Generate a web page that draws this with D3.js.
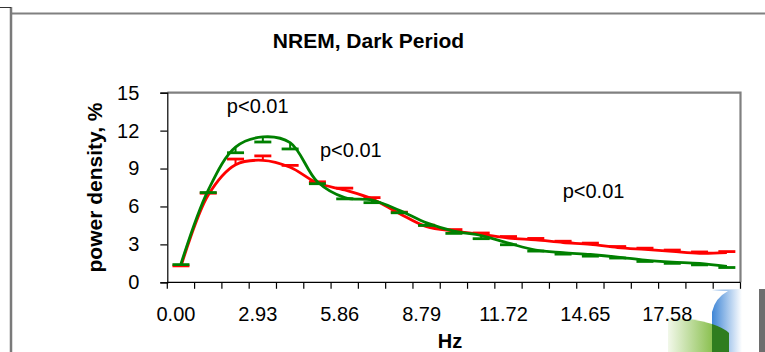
<!DOCTYPE html>
<html>
<head>
<meta charset="utf-8">
<script src="https://cdn.jsdelivr.net/npm/d3@7"></script>
<style>
  html, body { margin: 0; padding: 0; background: #fff; }
  svg { display: block; font-family: "Liberation Sans", Arial, Helvetica, sans-serif; }
</style>
</head>
<body>
<svg id="chart" width="765" height="352"></svg>
<script>
// ---- data ----
const categories = ["0.00","0.98","1.95","2.93","3.91","4.88","5.86","6.84","7.81","8.79","9.77",
                    "10.74","11.72","12.70","13.67","14.65","15.63","16.60","17.58","18.55","19.53"];
const tickLabels = ["0.00","2.93","5.86","8.79","11.72","14.65","17.58"];
const yTicks = [0, 3, 6, 9, 12, 15];
const redValues = [1.25, 6.9, 9.3, 9.65, 9.1, 7.85, 7.3, 6.6, 5.45, 4.4, 4.05, 3.8, 3.5, 3.35, 3.15, 3.0, 2.75, 2.6, 2.45, 2.3, 2.35];
const redErr    = [0.05, 0.15, 0.45, 0.35, 0.15, 0.1, 0.15, 0.1, 0.1, 0.12, 0.12, 0.1, 0.12, 0.12, 0.1, 0.1, 0.08, 0.1, 0.1, 0.1, 0.08];
const greenValues = [1.45, 7.3, 10.7, 11.5, 11.05, 7.95, 6.7, 6.5, 5.7, 4.7, 4.05, 3.7, 3.1, 2.55, 2.35, 2.2, 2.0, 1.75, 1.6, 1.5, 1.25];
const greenErr    = [0.05, 0.2, 0.45, 0.4, 0.5, 0.15, 0.1, 0.2, 0.2, 0.2, 0.18, 0.25, 0.13, 0.08, 0.12, 0.13, 0.08, 0.1, 0.1, 0.12, 0.08];
const annotations = [
  {text: "p<0.01", cat: "2.93", val: 13.4, dx: -36},
  {text: "p<0.01", cat: "6.84", val: 9.9, dx: -52},
  {text: "p<0.01", cat: "15.63", val: 6.7, dx: -55}
];
const title = "NREM, Dark Period";
const yTitle = "power density, %";
const xTitle = "Hz";

// ---- layout ----
const svg = d3.select("#chart");
const plot = {left: 167.3, right: 740.5, top: 92.7, bottom: 282.3};

const x = d3.scaleBand().domain(categories).range([plot.left, plot.right]).padding(0);
const y = d3.scaleLinear().domain([0, 15]).range([plot.bottom, plot.top]);
const cx = c => x(c) + x.bandwidth() / 2;

// decorative logo (bottom right), drawn first so labels sit on top
const defs = svg.append("defs");
const gg = defs.append("linearGradient").attr("id", "lg").attr("x1", 0).attr("x2", 1).attr("y1", 0).attr("y2", 0);
gg.append("stop").attr("offset", 0).attr("stop-color", "#f2f8ea");
gg.append("stop").attr("offset", 1).attr("stop-color", "#8cc152");
const bg = defs.append("linearGradient").attr("id", "lb").attr("x1", 0).attr("x2", 1).attr("y1", 0).attr("y2", 0);
bg.append("stop").attr("offset", 0).attr("stop-color", "#3f86d6");
bg.append("stop").attr("offset", 1).attr("stop-color", "#ffffff");
const logo = svg.append("g");
logo.append("path").attr("d", "M668,318 Q695,318 712,324 L712,352 L668,352 Z").attr("fill", "url(#lg)");
logo.append("path").attr("d", "M712,290 L742,289 L742,352 L712,352 L712,312 Q715,298 728,291 Z").attr("fill", "url(#lb)");
logo.append("path").attr("d", "M712,324 Q724,328 729,333 L729,352 L712,352 Z").attr("fill", "#2f7d1f");
logo.append("rect").attr("x", 759).attr("y", 289).attr("width", 6).attr("height", 63).attr("fill", "#6e6e6e");

// outer frame
const frame = svg.append("g").attr("fill", "none");
frame.append("line").attr("x1", 10).attr("x2", 765).attr("y1", 13.5).attr("y2", 13.5)
  .attr("stroke", "#808080").attr("stroke-width", 2);
frame.append("line").attr("x1", 11).attr("x2", 11).attr("y1", 7).attr("y2", 352)
  .attr("stroke", "#7a7a7a").attr("stroke-width", 2.5);
frame.append("line").attr("x1", 0).attr("x2", 11).attr("y1", 7.5).attr("y2", 7.5)
  .attr("stroke", "#333").attr("stroke-width", 1);

// plot border (top & right gray)
svg.append("path")
  .attr("d", `M${plot.left},${plot.top}H${plot.right}V${plot.bottom}`)
  .attr("fill", "none").attr("stroke", "#808080").attr("stroke-width", 2.2);

// y axis
const yAxis = d3.axisLeft(y).tickValues(yTicks).tickSize(7).tickPadding(21).tickFormat(d3.format("d"));
const gy = svg.append("g").attr("transform", `translate(${plot.left},0)`).call(yAxis);
gy.select(".domain").attr("stroke", "#000").attr("stroke-width", 1.2);
gy.selectAll(".tick line").attr("stroke", "#000").attr("stroke-width", 1.2);
gy.selectAll(".tick text").attr("font-size", 20).attr("fill", "#000")
  .attr("font-family", "Liberation Sans, Arial, sans-serif");

// x axis (ticks between categories)
const gx = svg.append("g").attr("transform", `translate(0,${plot.bottom})`);
gx.append("line").attr("x1", plot.left).attr("x2", plot.right).attr("y1", 0).attr("y2", 0)
  .attr("stroke", "#000").attr("stroke-width", 1.2);
const tickPos = categories.map(c => x(c)).concat([plot.right]);
gx.selectAll("line.tk").data(tickPos).join("line").attr("class", "tk")
  .attr("x1", d => d).attr("x2", d => d).attr("y1", 0).attr("y2", 6.5)
  .attr("stroke", "#000").attr("stroke-width", 1.2);
gx.selectAll("text.tl").data(tickLabels).join("text").attr("class", "tl")
  .attr("x", d => cx(d) - 5).attr("y", 39)
  .attr("text-anchor", "middle").attr("font-size", 20).attr("fill", "#000")
  .text(d => d);

// series
const line = d3.line().x((d, i) => cx(categories[i])).y(d => y(d)).curve(d3.curveCatmullRom.alpha(0.5));
const capW = 17;
function drawSeries(vals, errs, color, dir) {
  const g = svg.append("g");
  g.append("path").datum(vals).attr("d", line).attr("fill", "none")
    .attr("stroke", color).attr("stroke-width", 2.8).attr("stroke-linejoin", "round");
  const eb = g.selectAll("g.eb").data(vals).join("g").attr("class", "eb");
  eb.append("line")
    .attr("x1", (d, i) => cx(categories[i])).attr("x2", (d, i) => cx(categories[i]))
    .attr("y1", d => y(d)).attr("y2", (d, i) => y(d + dir * errs[i]))
    .attr("stroke", color).attr("stroke-width", 2);
  eb.append("line")
    .attr("x1", (d, i) => cx(categories[i]) - capW / 2).attr("x2", (d, i) => cx(categories[i]) + capW / 2)
    .attr("y1", (d, i) => y(d + dir * errs[i])).attr("y2", (d, i) => y(d + dir * errs[i]))
    .attr("stroke", color).attr("stroke-width", 2.8);
}
drawSeries(redValues, redErr, "#ff0000", 1);
drawSeries(greenValues, greenErr, "#008000", -1);

// annotations
svg.selectAll("text.ann").data(annotations).join("text").attr("class", "ann")
  .attr("x", d => cx(d.cat) + d.dx).attr("y", d => y(d.val))
  .attr("font-size", 20).attr("fill", "#000").text(d => d.text);

// titles
svg.append("text").attr("x", 368.5).attr("y", 48).attr("text-anchor", "middle")
  .attr("font-size", 21).attr("font-weight", "bold").text(title);
svg.append("text").attr("transform", `translate(102,${(plot.top + plot.bottom) / 2}) rotate(-90)`)
  .attr("text-anchor", "middle").attr("font-size", 21).attr("font-weight", "bold").text(yTitle);
svg.append("text").attr("x", 450).attr("y", 348).attr("text-anchor", "middle")
  .attr("font-size", 20).attr("font-weight", "bold").text(xTitle);
</script>
</body>
</html>
